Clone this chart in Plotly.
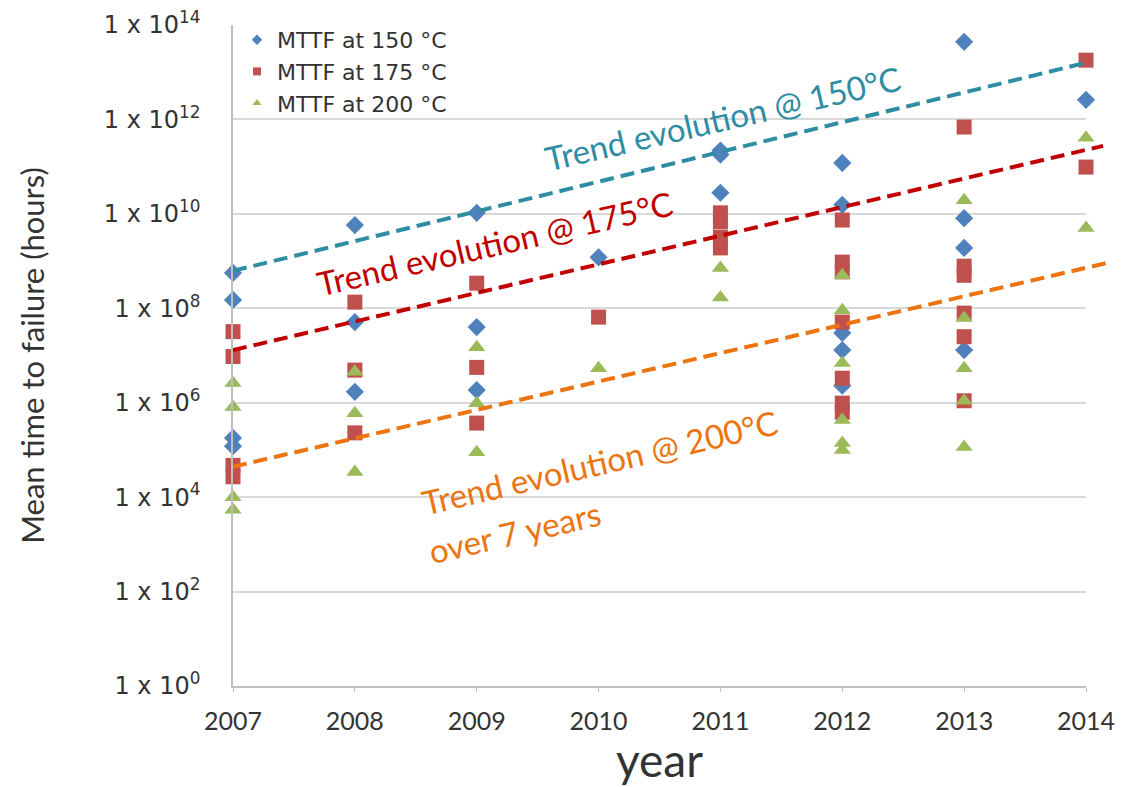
import plotly.graph_objects as go

# ---------------- data ----------------
years_150 = [2007, 2007, 2007, 2007, 2008, 2008, 2008, 2009, 2009, 2009, 2010,
             2011, 2011, 2011, 2012, 2012, 2012, 2012, 2012,
             2013, 2013, 2013, 2013, 2014]
mttf_150 = [5.6e8, 1.5e8, 1.8e5, 1.2e5, 5.8e9, 5.1e7, 1.7e6, 1.05e10, 4.0e7, 1.85e6, 1.2e9,
            2.2e11, 1.8e11, 2.8e10, 1.2e11, 1.55e10, 3.0e7, 1.3e7, 2.3e6,
            4.4e13, 8.1e9, 1.9e9, 1.3e7, 2.6e12]

years_175 = [2007, 2007, 2007, 2007, 2008, 2008, 2008, 2009, 2009, 2009, 2010,
             2011, 2011, 2011, 2011, 2012, 2012, 2012, 2012, 2012, 2012, 2012,
             2013, 2013, 2013, 2013, 2013, 2013, 2014, 2014]
mttf_175 = [3.2e7, 9.5e6, 4.7e4, 2.7e4, 1.35e8, 4.9e6, 2.3e5, 3.4e8, 5.6e6, 3.7e5, 6.5e7,
            1.05e10, 6.8e9, 3.2e9, 1.9e9, 7.4e9, 9.5e8, 5.9e8, 5.1e7, 3.3e6, 9.8e5, 6.3e5,
            6.9e11, 7.8e8, 5.0e8, 7.9e7, 2.5e7, 1.1e6, 1.8e13, 9.8e10]

years_200 = [2007, 2007, 2007, 2007, 2008, 2008, 2008, 2009, 2009, 2009, 2010,
             2011, 2011, 2012, 2012, 2012, 2012, 2012, 2012,
             2013, 2013, 2013, 2013, 2013, 2014, 2014]
mttf_200 = [2.6e6, 8.1e5, 1.0e4, 5.4e3, 4.5e6, 6.0e5, 3.4e4, 1.5e7, 9.8e5, 8.9e4, 5.4e6,
            7.1e8, 1.7e8, 5.0e8, 9.1e7, 6.9e6, 4.3e5, 1.4e5, 1.0e5,
            1.95e10, 6.2e7, 5.4e6, 1.1e6, 1.15e5, 4.1e11, 5.0e9]

trend_150_x = [2007, 2014.03]
trend_150_y = [6.2e8, 1.66e13]
trend_175_x = [2007, 2014.14]
trend_175_y = [1.3e7, 2.75e11]
trend_200_x = [2007, 2014.17]
trend_200_y = [4.4e4, 9.1e8]

year_ticks = [2007, 2008, 2009, 2010, 2011, 2012, 2013, 2014]
y_exponents = [0, 2, 4, 6, 8, 10, 12, 14]
y_tickvals = [10 ** e for e in y_exponents]
y_ticktext = ["1 x 10<sup>%d</sup>" % e for e in y_exponents]

# ---------------- styles ----------------
C_BLUE, C_RED, C_GREEN = "#4F81BD", "#C0504D", "#9BBB59"
C_TEAL, C_DRED, C_ORANGE = "#2E8CA3", "#C00000", "#EC7512"
W, H = 1131, 787
ML, MR, MT, MB = 233, 20, 25, 101
plot_w = W - ML - MR
plot_h = H - MT - MB
main_w = 1086 - ML
main_frac = main_w / plot_w
x2_end = 2007 + 7 * plot_w / main_w

fig = go.Figure()

series = [
    ("MTTF at 150 °C", years_150, mttf_150, C_BLUE, "diamond", 14),
    ("MTTF at 175 °C", years_175, mttf_175, C_RED, "square", 15),
    ("MTTF at 200 °C", years_200, mttf_200, C_GREEN, "triangle-up", 15),
]
for name, xs, ys, col, sym, sz in series:
    fig.add_trace(go.Scatter(x=xs, y=ys, mode="markers", name=name, showlegend=False,
                             marker=dict(color=col, symbol=sym, size=sz, line=dict(width=0)),
                             cliponaxis=False))
for name, xs, ys, col, sym, sz in series:
    fig.add_trace(go.Scatter(x=[None], y=[None], mode="markers", name=name, showlegend=True,
                             marker=dict(color=col, symbol=sym, size=8)))

for xs, ys, col in [(trend_150_x, trend_150_y, C_TEAL),
                    (trend_175_x, trend_175_y, C_DRED),
                    (trend_200_x, trend_200_y, C_ORANGE)]:
    fig.add_trace(go.Scatter(x=xs, y=ys, mode="lines", showlegend=False,
                             line=dict(color=col, width=4, dash="14px,7px"),
                             xaxis="x2", yaxis="y2"))

ann_font = "Lato, 'Open Sans', sans-serif"
annotations = [
    ("Trend evolution @ 150°C", 2011.02, 12.03, C_TEAL),
    ("Trend evolution @ 175°C", 2009.15, 9.38, C_DRED),
    ("Trend evolution @ 200°C", 2010.01, 4.74, C_ORANGE),
    ("over 7 years", 2009.31, 3.26, C_ORANGE),
]
for txt, ax_, ay_, col in annotations:
    fig.add_annotation(x=ax_, y=ay_, xref="x", yref="y", text=txt, showarrow=False,
                       textangle=-13, font=dict(family=ann_font, size=33, color=col),
                       xanchor="center", yanchor="middle")

fig.update_layout(
    width=W, height=H,
    margin=dict(l=ML, r=MR, t=MT, b=MB),
    paper_bgcolor="white", plot_bgcolor="rgba(0,0,0,0)",
    legend=dict(x=4 / plot_w, y=1.0 + 6 / plot_h, xanchor="left", yanchor="top",
                bgcolor="rgba(0,0,0,0)",
                font=dict(family="'DejaVu Sans', sans-serif", size=22, color="#333333")),
    xaxis=dict(domain=[0, main_frac], range=[2007, 2014], tickvals=year_ticks,
               ticktext=[str(y) for y in year_ticks], automargin=False,
               showgrid=False, zeroline=False, showline=True, linecolor="#BFBFBF", linewidth=1.5,
               ticks="outside", ticklen=4, tickcolor="#BFBFBF", ticklabelstandoff=8,
               tickfont=dict(family="Lato, sans-serif", size=25, color="#333333"),
               title=dict(text="year", font=dict(family="Lato, sans-serif", size=46, color="#333333"),
                          standoff=8)),
    yaxis=dict(type="log", range=[0, 14], tickvals=y_tickvals, ticktext=y_ticktext,
               showgrid=True, gridcolor="#D9D9D9", gridwidth=1.5, zeroline=False,
               showline=True, linecolor="#BFBFBF", linewidth=1.5, ticks="",
               ticklabelstandoff=26, automargin=False,
               tickfont=dict(family="'DejaVu Sans', sans-serif", size=24, color="#333333"),
               title=dict(text="Mean time to failure (hours)",
                          font=dict(family="Lato, sans-serif", size=31, color="#333333"),
                          standoff=50)),
    xaxis2=dict(domain=[0, 1], range=[2007, x2_end], anchor="y2", visible=False),
    yaxis2=dict(type="log", range=[0, 14], domain=[0, 1], anchor="x2", visible=False),
)

fig.write_html("out.html")
